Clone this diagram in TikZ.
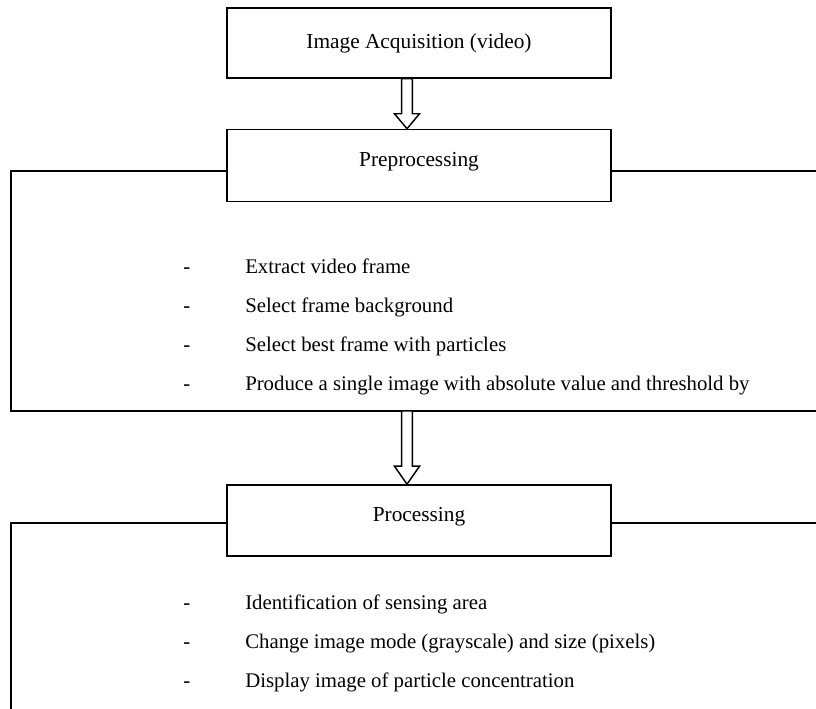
\documentclass[tikz,border=0pt]{standalone}
\usepackage{fontspec}
\setmainfont{Liberation Serif}
\usetikzlibrary{positioning, calc}
\tikzset{
  % Stage boxes and panels
  stage/.style={rectangle, draw=black, line width=1.1pt, minimum width=288pt, minimum height=#1, text height=11pt, text depth=10pt, font=\fontsize{16}{19}\selectfont},
  stage/.default={54pt},
  panel/.style={draw=black, line width=1.1pt},
  item/.style={anchor=base west, inner sep=0pt, font=\fontsize{15.6}{19}\selectfont},
  hollow/.style={draw=black, line width=1.1pt, fill=white},
}
% hollow block arrow: start point, target node, head length
\newcommand{\hollowarrow}[3]{%
  \draw[hollow] let \p1=(#1), \p2=(#2.north) in
    (\x1-4.1pt,\y1) -- (\x1-4.1pt,\y2+#3) -- (\x1-9.4pt,\y2+#3) -- (\x1,\y2)
    -- (\x1+9.4pt,\y2+#3) -- (\x1+4.1pt,\y2+#3) -- (\x1+4.1pt,\y1) -- cycle;}

\begin{document}
\begin{tikzpicture}[x=0.75pt, y=-0.75pt]
    \useasboundingbox (0,0) rectangle (816,708);
    \clip (0,0) rectangle (816,708);

    % Acquisition
    \node[stage=52.5pt, text depth=3.5pt] (acq) at (419,43) {Image Acquisition (video)};

    % Preprocessing
    \node[stage=54pt, below=37.5pt of acq] (pre) {Preprocessing};
    \coordinate (pretop) at (11,171);
    \coordinate (prebot) at (11,411);
    \draw[panel] (pre.west |- pretop) -- (pretop) -- (prebot) -- (830,411);
    \draw[panel] (pre.east |- pretop) -- (830,171);

    \node[item] (pre1) at (183,273) {\makebox[46.5pt][l]{-}Extract video frame};
    \node[item] (pre2) at (183,312) {\makebox[46.5pt][l]{-}Select frame background};
    \node[item] (pre3) at (183,351) {\makebox[46.5pt][l]{-}Select best frame with particles};
    \node[item] (pre4) at (183,390) {\makebox[46.5pt][l]{-}Produce a single image with absolute value and threshold by};

    % Processing
    \node[stage=53.25pt, below=211.5pt of pre] (proc) {Processing};
    \coordinate (proctop) at (11,523);
    \draw[panel] (proc.west |- proctop) -- (proctop) -- (11,720);
    \draw[panel] (proc.east |- proctop) -- (830,523);

    \node[item] (proc1) at (183,609) {\makebox[46.5pt][l]{-}Identification of sensing area};
    \node[item] (proc2) at (183,648) {\makebox[46.5pt][l]{-}Change image mode (grayscale) and size (pixels)};
    \node[item] (proc3) at (183,687) {\makebox[46.5pt][l]{-}Display image of particle concentration};

    % Arrows
    \hollowarrow{$(acq.south)+(-12,0)$}{pre}{11.25pt}
    \hollowarrow{$(pre.south |- prebot)+(-12,0)$}{proc}{13.5pt}
\end{tikzpicture}
\end{document}
